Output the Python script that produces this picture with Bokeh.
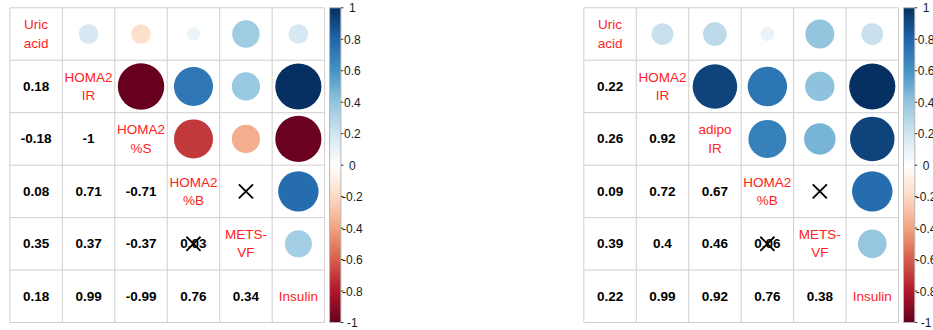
import numpy as np
from bokeh.plotting import figure
from bokeh.models import Range1d, LinearColorMapper, ColumnDataSource
from bokeh.layouts import row
from bokeh.core.properties import value
from bokeh.embed import file_html
from bokeh.resources import INLINE

# ---------------------------------------------------------------- data
labels_left = ["Uric\nacid", "HOMA2\nIR", "HOMA2\n%S", "HOMA2\n%B", "METS-\nVF", "Insulin"]
corr_left = [
    [0.18],
    [-0.18, -1.0],
    [0.08, 0.71, -0.71],
    [0.35, 0.37, -0.37, 0.03],
    [0.18, 0.99, -0.99, 0.76, 0.34],
]
# (row, column) of the lower-triangle pairs that are not significant
nonsig_left = [(4, 3)]

labels_right = ["Uric\nacid", "HOMA2\nIR", "adipo\nIR", "HOMA2\n%B", "METS-\nVF", "Insulin"]
corr_right = [
    [0.22],
    [0.26, 0.92],
    [0.09, 0.72, 0.67],
    [0.39, 0.40, 0.46, 0.06],
    [0.22, 0.99, 0.92, 0.76, 0.38],
]
nonsig_right = [(4, 3)]

cb_ticks = [1, 0.8, 0.6, 0.4, 0.2, 0, -0.2, -0.4, -0.6, -0.8, -1]

# ------------------------------------------------------------- palette
RDBU = ["#67001F", "#B2182B", "#D6604D", "#F4A582", "#FDDBC7", "#FFFFFF",
        "#D1E5F0", "#92C5DE", "#4393C3", "#2166AC", "#053061"]


def ramp(anchors, n):
    rgb = np.array([[int(c[i:i + 2], 16) for i in (1, 3, 5)] for c in anchors], float)
    pos = np.linspace(0, 1, len(anchors))
    t = np.linspace(0, 1, n)
    chans = [np.interp(t, pos, rgb[:, k]) for k in range(3)]
    return ["#%02X%02X%02X" % tuple(int(round(c[i])) for c in chans) for i in range(n)]


PALETTE = ramp(RDBU, 200)

# -------------------------------------------------------------- layout
WIN_H = 330
CELL = 52.45
GRID_TOP = 7.3
CB_GAP = 5.0
CB_W = 11.3
TICK_LEN = 2.5
LABEL_DX = 11.4
FONT = value("Liberation Sans")
GRID_COL = "#CFCFCF"
LABEL_RED = "#FF2222"
RADIUS_FACTOR = 0.4425


def fmt(v):
    s = f"{v:.2f}".rstrip("0").rstrip(".")
    return "0" if s in ("-0", "") else s


def panel(names, lower, nonsig, width, grid_left):
    n = len(names)
    mat = np.eye(n)
    for i, vals in enumerate(lower, start=1):
        for j, v in enumerate(vals):
            mat[i, j] = mat[j, i] = v

    x_range = Range1d(-grid_left / CELL, (width - grid_left) / CELL)
    y_range = Range1d((WIN_H - GRID_TOP) / CELL, -GRID_TOP / CELL)
    p = figure(width=width, height=WIN_H, x_range=x_range, y_range=y_range,
               min_border=0, toolbar_location=None, output_backend="svg",
               x_axis_location=None, y_axis_location=None)
    p.grid.visible = False
    p.outline_line_color = None
    p.background_fill_color = "white"
    p.border_fill_color = "white"

    # colour-bar value scale sharing the frame with the grid rows
    half = n / 2
    p.extra_y_ranges = {"cb": Range1d(1 - y_range.start / half, 1 - y_range.end / half)}

    mapper = LinearColorMapper(palette=PALETTE, low=-1, high=1)

    # cell grid
    ks = list(range(n + 1))
    p.segment(x0=ks, y0=[0] * len(ks), x1=ks, y1=[n] * len(ks),
              line_color=GRID_COL, line_width=1)
    p.segment(x0=[0] * len(ks), y0=ks, x1=[n] * len(ks), y1=ks,
              line_color=GRID_COL, line_width=1)

    # upper triangle: circles
    cx, cy, cr, crad = [], [], [], []
    for i in range(n):
        for j in range(i + 1, n):
            r = mat[i, j]
            cx.append(j + 0.5)
            cy.append(i + 0.5)
            cr.append(r)
            crad.append(RADIUS_FACTOR * np.sqrt(abs(r)))
    src = ColumnDataSource(dict(x=cx, y=cy, r=cr, rad=crad))
    p.circle(x="x", y="y", radius="rad", source=src,
             fill_color={"field": "r", "transform": mapper}, line_color=None)

    # lower triangle: coefficients
    tx, ty, tt = [], [], []
    for i in range(n):
        for j in range(i):
            tx.append(j + 0.5)
            ty.append(i + 0.5)
            tt.append(fmt(mat[i, j]))
    p.text(x=tx, y=ty, text=tt, text_font=FONT, text_font_style="bold",
           text_font_size="13.5px", text_align="center", text_baseline="middle",
           text_color="black")

    # diagonal: variable names
    d = [k + 0.5 for k in range(n)]
    p.text(x=d, y=d, text=names, text_font=FONT, text_font_size="13.5px",
           text_align="center", text_baseline="middle", text_color=LABEL_RED,
           text_line_height=1.22)

    # crosses on non-significant pairs (both triangles)
    xx, xy = [], []
    for (i, j) in nonsig:
        xx += [j + 0.5, i + 0.5]
        xy += [i + 0.5, j + 0.5]
    p.scatter(x=xx, y=xy, marker="x", size=20, line_color="black", line_width=1.8)

    # colour bar
    x0 = n + CB_GAP / CELL
    x1 = x0 + CB_W / CELL
    grad = np.linspace(-1, 1, 200).reshape(200, 1)
    p.image(image=[grad], x=x0, y=-1, dw=CB_W / CELL, dh=2,
            color_mapper=mapper, y_range_name="cb")
    p.quad(left=[x0], right=[x1], bottom=[-1], top=[1], fill_color=None,
           line_color="#B5B5B5", line_width=1, y_range_name="cb")
    p.segment(x0=[x1] * len(cb_ticks), y0=cb_ticks,
              x1=[x1 + TICK_LEN / CELL] * len(cb_ticks), y1=cb_ticks,
              line_color="#333333", line_width=1, y_range_name="cb")
    p.text(x=[x1 + LABEL_DX / CELL] * len(cb_ticks), y=cb_ticks,
           text=[f"{t:g}" for t in cb_ticks], text_font=FONT,
           text_font_size="12px", text_align="center", text_baseline="middle",
           text_color="#1A1A1A", y_range_name="cb")
    return p


left = panel(labels_left, corr_left, nonsig_left, 466, 9.4)
right = panel(labels_right, corr_right, nonsig_right, 467, 117.3)

layout = row(left, right, spacing=0)
open("out.html", "w").write(file_html(layout, INLINE))
